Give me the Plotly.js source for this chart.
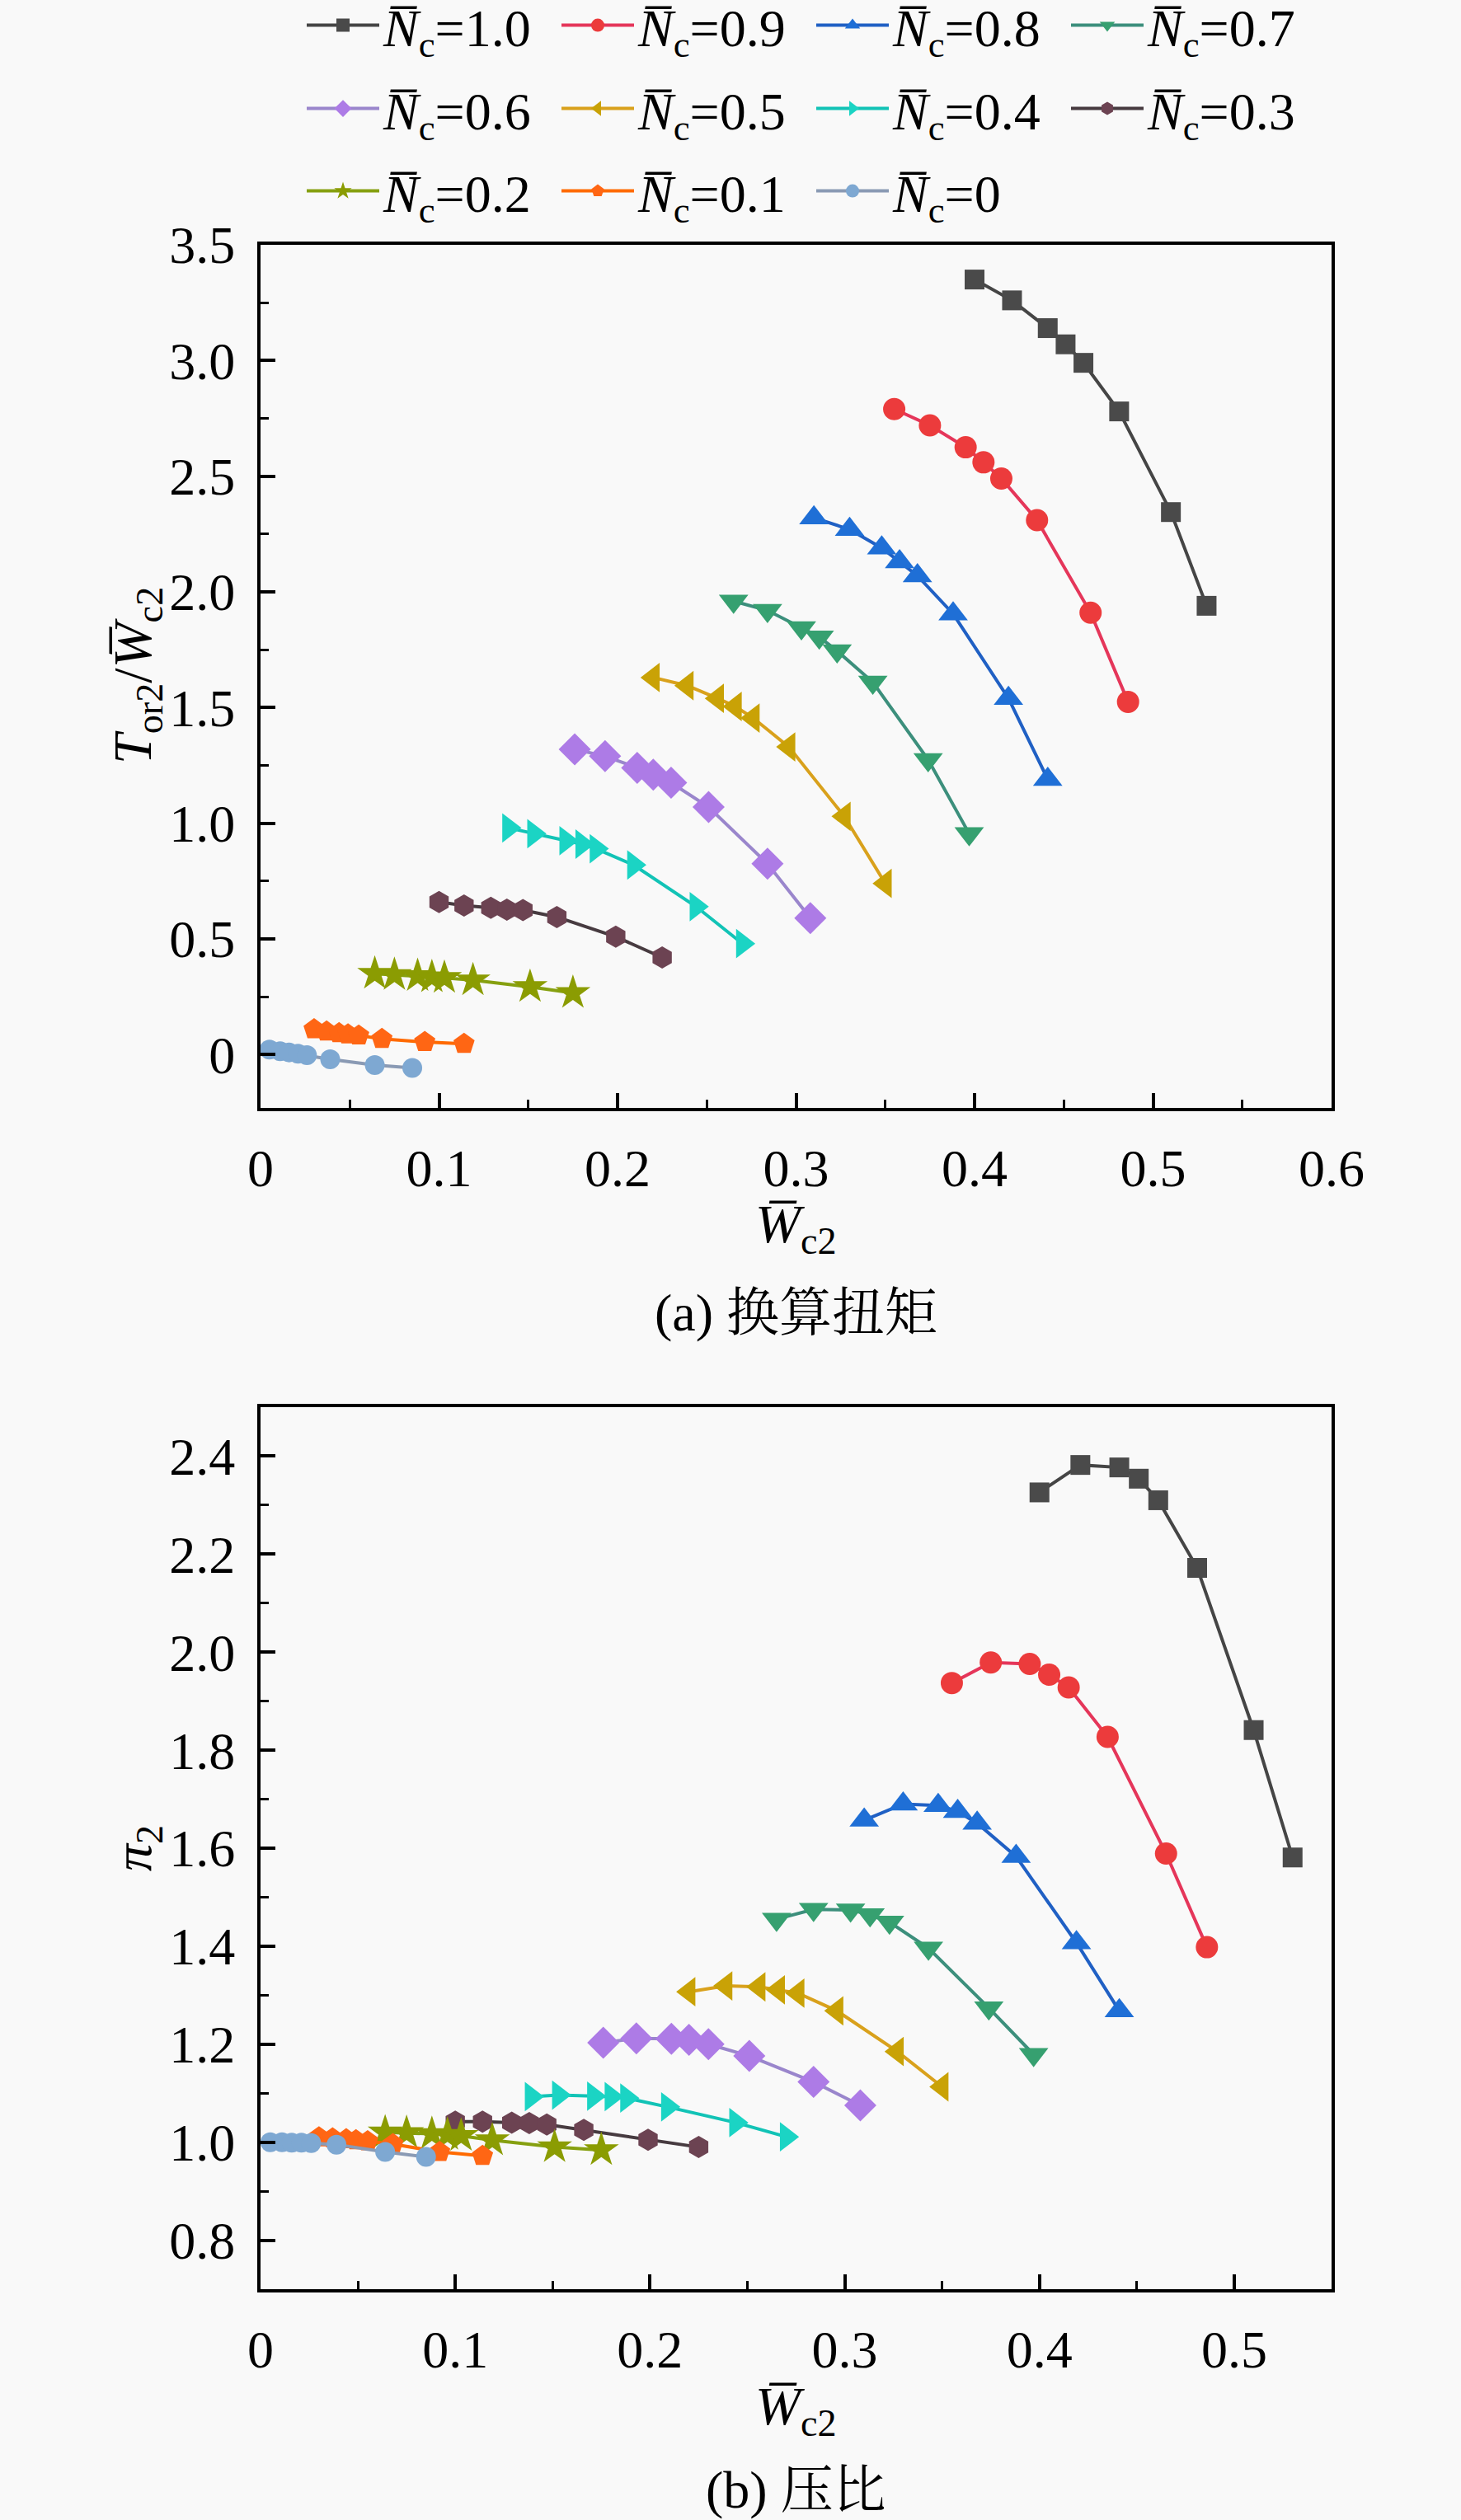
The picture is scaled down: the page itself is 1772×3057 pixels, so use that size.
<!DOCTYPE html>
<html>
<head>
<meta charset="utf-8">
<script src="https://cdn.plot.ly/plotly-3.0.1.min.js"></script>
<style>
  html, body { margin: 0; padding: 0; background: #f9f9f9; }
  #wykres { width: 1772px; height: 3057px; }
</style>
</head>
<body>
<div id="wykres"></div>
<script>
// Dane (wspolne W_c2 dla obu paneli)

// W_c2 dla kolejnych predkosci N_c
const w10 = [0.400, 0.421, 0.441, 0.451, 0.461, 0.481, 0.510, 0.530];
const w09 = [0.355, 0.375, 0.395, 0.405, 0.415, 0.435, 0.465, 0.486];
const w08 = [0.310, 0.330, 0.348, 0.358, 0.368, 0.388, 0.419, 0.441];
const w07 = [0.265, 0.284, 0.303, 0.313, 0.323, 0.343, 0.374, 0.397];
const w06 = [0.176, 0.193, 0.211, 0.220, 0.230, 0.251, 0.284, 0.308];
const w05 = [0.220, 0.239, 0.256, 0.266, 0.276, 0.296, 0.327, 0.350];
const w04 = [0.139, 0.153, 0.171, 0.180, 0.188, 0.209, 0.244, 0.270];
const w03 = [0.100, 0.114, 0.129, 0.138, 0.147, 0.166, 0.199, 0.225];
const w02 = [0.064, 0.075, 0.088, 0.096, 0.103, 0.119, 0.151, 0.175];
const w01 = [0.030, 0.037, 0.044, 0.049, 0.055, 0.068, 0.092, 0.114];
const w00 = [0.005, 0.011, 0.016, 0.021, 0.026, 0.039, 0.064, 0.085];

// (a) T_or2 / W_c2
const t10 = [3.35, 3.26, 3.14, 3.07, 2.99, 2.78, 2.345, 1.94];
const t09 = [2.79, 2.72, 2.625, 2.56, 2.49, 2.31, 1.91, 1.525];
const t08 = [2.32, 2.27, 2.19, 2.13, 2.07, 1.905, 1.54, 1.19];
const t07 = [1.96, 1.92, 1.845, 1.805, 1.745, 1.61, 1.275, 0.955];
const t06 = [1.32, 1.29, 1.24, 1.21, 1.175, 1.07, 0.825, 0.59];
const t05 = [1.63, 1.595, 1.54, 1.505, 1.455, 1.33, 1.03, 0.74];
const t04 = [0.98, 0.955, 0.925, 0.91, 0.89, 0.82, 0.64, 0.48];
const t03 = [0.66, 0.645, 0.635, 0.627, 0.625, 0.595, 0.51, 0.42];
const t02 = [0.35, 0.345, 0.34, 0.335, 0.332, 0.322, 0.293, 0.267];
const t01 = [0.11, 0.10, 0.093, 0.088, 0.083, 0.068, 0.055, 0.047];
const t00 = [0.022, 0.015, 0.01, 0.004, -0.002, -0.02, -0.045, -0.057];

// (b) pi_2
const p10 = [2.326, 2.382, 2.377, 2.354, 2.31, 2.172, 1.841, 1.581];
const p09 = [1.937, 1.979, 1.976, 1.954, 1.928, 1.827, 1.589, 1.398];
const p08 = [1.657, 1.69, 1.687, 1.675, 1.651, 1.583, 1.407, 1.268];
const p07 = [1.455, 1.475, 1.474, 1.464, 1.449, 1.396, 1.274, 1.179];
const p06 = [1.203, 1.212, 1.211, 1.209, 1.2, 1.176, 1.123, 1.075];
const p05 = [1.307, 1.319, 1.317, 1.311, 1.304, 1.268, 1.185, 1.113];
const p04 = [1.093, 1.096, 1.094, 1.093, 1.09, 1.072, 1.04, 1.011];
const p03 = [1.042, 1.042, 1.04, 1.039, 1.036, 1.025, 1.005, 0.99];
const p02 = [1.02, 1.019, 1.017, 1.015, 1.013, 1.004, 0.99, 0.984];
const p01 = [1.01, 1.008, 1.006, 1.004, 1.002, 0.996, 0.98, 0.972];
const p00 = [1.0, 1.0, 0.999, 0.999, 0.998, 0.995, 0.98, 0.97];

// Etykiety serii i osi
const nazwy = ["1.0", "0.9", "0.8", "0.7", "0.6", "0.5", "0.4", "0.3", "0.2", "0.1", "0"];
const aXTicks = [0, 0.1, 0.2, 0.3, 0.4, 0.5, 0.6];
const aXText = ["0", "0.1", "0.2", "0.3", "0.4", "0.5", "0.6"];
const aYTicks = [0, 0.5, 1.0, 1.5, 2.0, 2.5, 3.0, 3.5];
const aYText = ["0", "0.5", "1.0", "1.5", "2.0", "2.5", "3.0", "3.5"];
const bXTicks = [0, 0.1, 0.2, 0.3, 0.4, 0.5];
const bXText = ["0", "0.1", "0.2", "0.3", "0.4", "0.5"];
const bYTicks = [0.8, 1.0, 1.2, 1.4, 1.6, 1.8, 2.0, 2.2, 2.4];
const bYText = ["0.8", "1.0", "1.2", "1.4", "1.6", "1.8", "2.0", "2.2", "2.4"];

// Styl serii: symbol, kolor markera, kolor linii, rozmiar
const styl = [
    ["square", "#4a4a4a", "#454545", 24],
    ["circle", "#ec3b3c", "#e5365a", 27],
    ["triangle-up", "#1f6fd6", "#2060c4", 31],
    ["triangle-down", "#36a070", "#3c8f7c", 31],
    ["diamond", "#ad7be6", "#9a86cc", 30],
    ["triangle-left", "#c9a206", "#d9a11c", 31],
    ["triangle-right", "#1bd4c4", "#12c3b6", 31],
    ["hexagon", "#6c4352", "#473b40", 27],
    ["star", "#8b9c02", "#86a010", 32],
    ["pentagon", "#ff6614", "#ff6a00", 27],
    ["circle", "#7ea8d2", "#8a9ab4", 24]
];

const W = [w10, w09, w08, w07, w06, w05, w04, w03, w02, w01, w00];
const T = [t10, t09, t08, t07, t06, t05, t04, t03, t02, t01, t00];
const P = [p10, p09, p08, p07, p06, p05, p04, p03, p02, p01, p00];

const N_BAR = "<i>N\u0305</i><sub>c</sub>=";
const W_BAR = "<i>W\u0305</i><sub>c2</sub>";
const FONT = "Liberation Serif, Times New Roman, serif";
const FONT_CJK = "Liberation Serif, Noto Serif CJK SC, Noto Sans CJK SC, serif";

// ktora legenda (wiersz) dla serii i
function wiersz(i){
    if (i < 4) return "legend";
    if (i < 8) return "legend2";
    return "legend3";
}

// jedna seria (linia + markery)
function seria(i, y, xa, ya, pokaz){
    return {
        type: "scatter",
        mode: "lines+markers",
        name: N_BAR + nazwy[i],
        x: W[i],
        y: y,
        xaxis: xa,
        yaxis: ya,
        legend: wiersz(i),
        showlegend: pokaz,
        line: {color: styl[i][2], width: 4},
        marker: {symbol: styl[i][0], color: styl[i][1], size: styl[i][3], line: {width: 0}}
    };
}

let data = [];
for (let i = 0; i < W.length; i++) data.push(seria(i, T[i], "x", "y", true));
for (let i = 0; i < W.length; i++) data.push(seria(i, P[i], "x2", "y2", false));

// wspolne ustawienia osi glownych
function os(range, domain, anchor, vals, text, minorStep){
    return {
        range: range, domain: domain, anchor: anchor,
        tickmode: "array", tickvals: vals, ticktext: text,
        ticks: "inside", ticklen: 18, tickwidth: 4, tickcolor: "#000",
        minor: {tickmode: "linear", tick0: 0, dtick: minorStep, ticks: "inside", ticklen: 10, tickwidth: 3, tickcolor: "#000"},
        showline: true, linewidth: 4, linecolor: "#000", mirror: true,
        showgrid: false, zeroline: false,
        ticklabelstandoff: 14,
        tickfont: {family: FONT, size: 64, color: "#000"}
    };
}

// osie gorne/prawe z 10 rownymi podzialkami (jak w Originie)
function osLustro(range, overlay, anchor, side){
    let vals = [];
    let krok = (range[1] - range[0]) / 10;
    for (let k = 1; k < 10; k++) vals.push(range[0] + k * krok);
    return {
        range: range, overlaying: overlay, anchor: anchor, side: side,
        tickmode: "array", tickvals: vals, ticks: "inside", ticklen: 14, tickwidth: 4, tickcolor: "#000",
        showticklabels: false, showline: false, showgrid: false, zeroline: false
    };
}

// jeden wiersz legendy (marginesy = 0, wiec paper == caly obraz)
function legenda(yPx){
    return {
        orientation: "h", xref: "paper", yref: "paper",
        x: 367 / 1772, xanchor: "left", y: 1 - yPx / 3057, yanchor: "middle",
        entrywidth: 206, entrywidthmode: "pixels", itemwidth: 88,
        font: {family: FONT, size: 64, color: "#000"},
        bgcolor: "rgba(0,0,0,0)", traceorder: "normal"
    };
}

const xDom = [316 / 1772, 1615 / 1772];
const aRangeX = [0, 0.6], aRangeY = [-0.23, 3.5];
const bRangeX = [0, 0.55], bRangeY = [0.7, 2.5];

function napis(text, x, y, size, kat, family){
    return {
        text: text, xref: "paper", yref: "paper", x: x, y: y,
        xanchor: "center", yanchor: "middle", showarrow: false, textangle: kat,
        font: {family: family, size: size, color: "#000"}
    };
}

const xc = (xDom[0] + xDom[1]) / 2;

let layout = {
    width: 1772, height: 3057,
    margin: {l: 0, r: 0, t: 0, b: 0, autoexpand: false},
    paper_bgcolor: "#f9f9f9",
    plot_bgcolor: "#f9f9f9",
    font: {family: FONT, size: 64, color: "#000"},
    showlegend: true,
    legend: legenda(31),
    legend2: legenda(132),
    legend3: legenda(232),
    xaxis: os(aRangeX, xDom, "y", aXTicks, aXText, 0.05),
    yaxis: os(aRangeY, [1 - 1344 / 3057, 1 - 297 / 3057], "x", aYTicks, aYText, 0.25),
    xaxis2: os(bRangeX, xDom, "y2", bXTicks, bXText, 0.05),
    yaxis2: os(bRangeY, [1 - 2777 / 3057, 1 - 1707 / 3057], "x2", bYTicks, bYText, 0.1),
    xaxis3: osLustro(aRangeX, "x", "y", "top"),
    yaxis3: osLustro(aRangeY, "y", "x", "right"),
    xaxis4: osLustro(bRangeX, "x2", "y2", "top"),
    yaxis4: osLustro(bRangeY, "y2", "x2", "right"),
    annotations: [
        napis(W_BAR, xc, 1 - 1490 / 3057, 66, 0, FONT),
        napis("(a) 换算扭矩", xc, 1 - 1593 / 3057, 64, 0, FONT_CJK),
        napis("<i>T</i><sub>or2</sub>/" + W_BAR, 166 / 1772, 1 - 820 / 3057, 66, -90, FONT),
        napis(W_BAR, xc, 1 - 2923 / 3057, 66, 0, FONT),
        napis("(b) 压比", xc, 1 - 3020 / 3057, 64, 0, FONT_CJK),
        napis("<i>π</i><sub>2</sub>", 165 / 1772, 1 - 2242 / 3057, 66, -90, FONT)
    ]
};

Plotly.newPlot("wykres", data, layout, {staticPlot: true});
</script>
</body>
</html>
